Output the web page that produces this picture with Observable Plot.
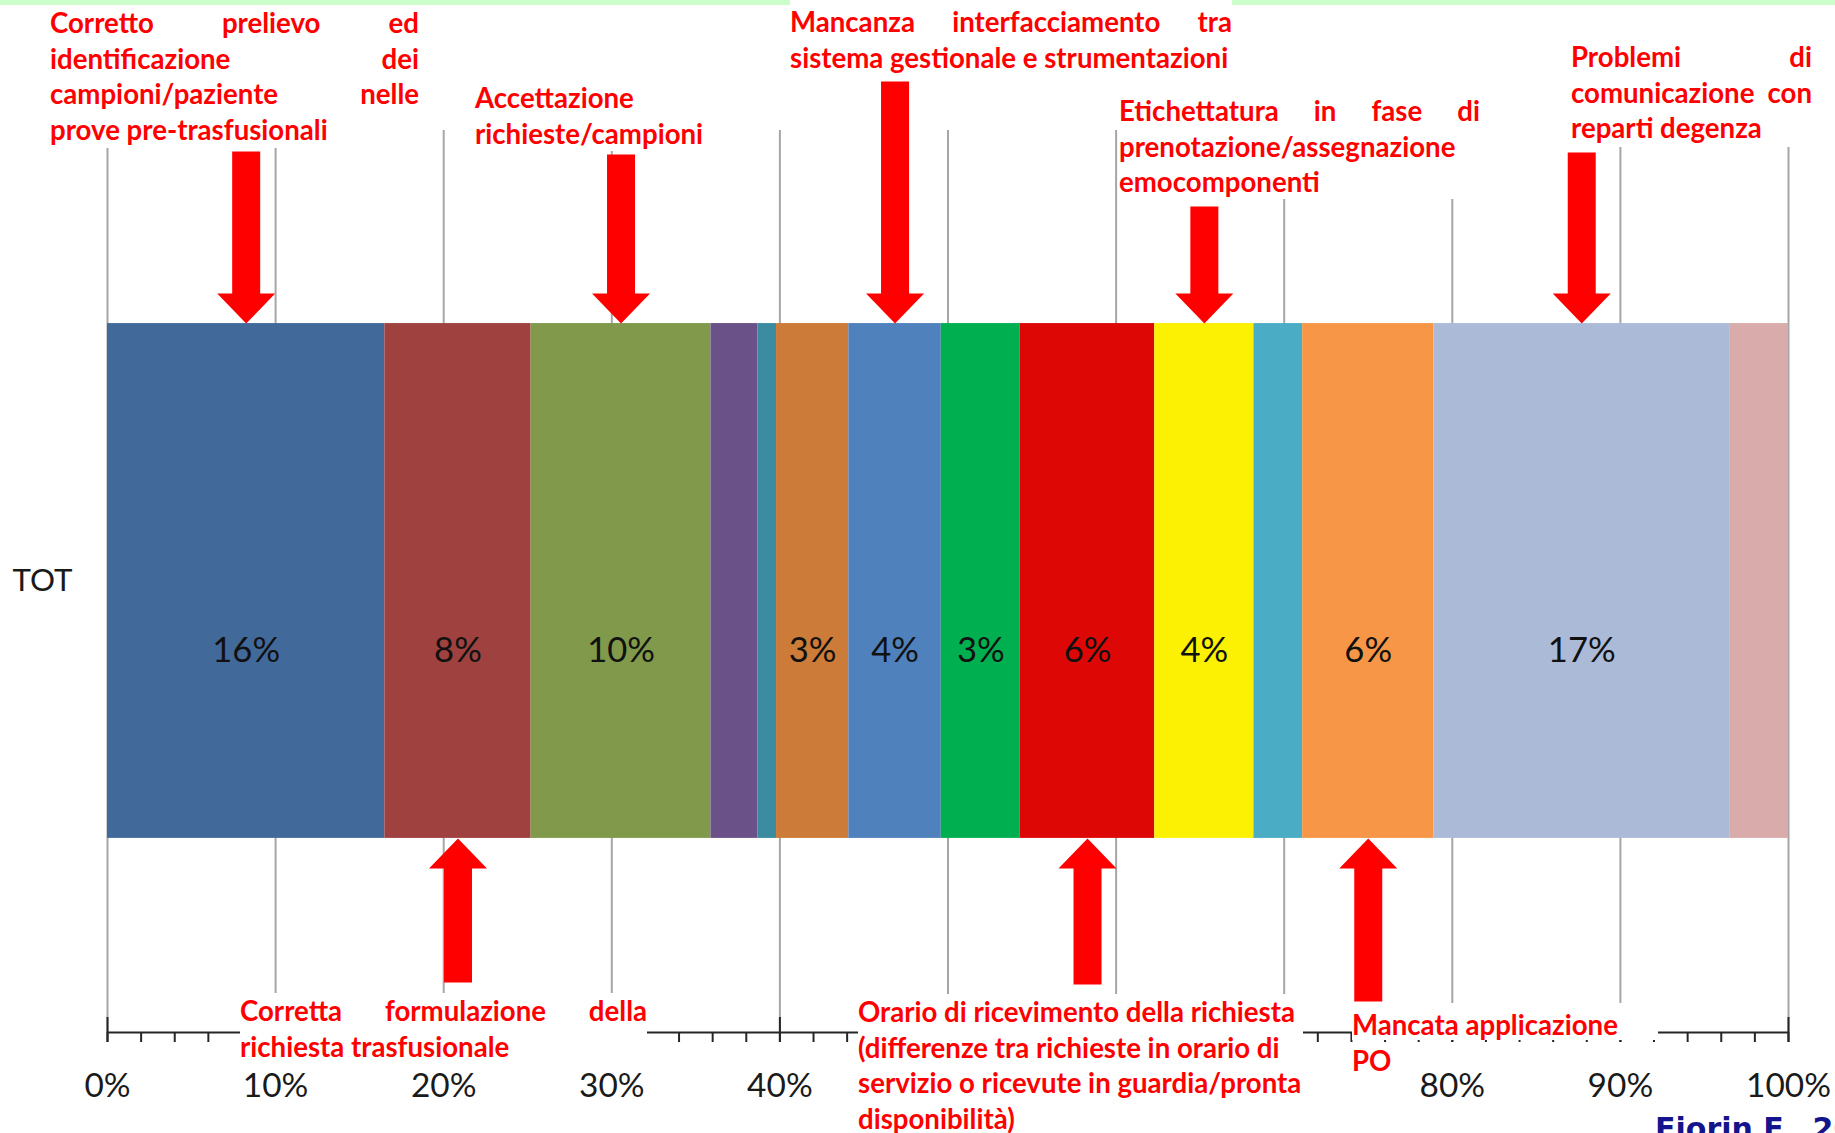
<!DOCTYPE html>
<html>
<head>
<meta charset="utf-8">
<script src="https://cdn.jsdelivr.net/npm/d3@7"></script>
<script src="https://cdn.jsdelivr.net/npm/@observablehq/plot@0.6"></script>
<style>
  html, body { margin: 0; padding: 0; background: #fff; overflow: hidden; }
  #wrap { position: relative; width: 1835px; height: 1133px; overflow: hidden; background: #fff; }
  #wrap svg { position: absolute; left: 0; top: 0; }
  #band { position: absolute; left: 0; top: 0; width: 1835px; height: 5px; background: #ccffcc; z-index: 1; }
  .note { position: absolute; background: #fff; z-index: 2; color: #ff0000; box-sizing: border-box;
          font-family: Lato, sans-serif; font-weight: bold; line-height: 35.5px; }
  .note .ln { white-space: nowrap; }
  #credit { position: absolute; left: 1655px; top: 1114px; z-index: 2; white-space: nowrap;
            font-family: "DejaVu Sans", sans-serif; font-weight: bold; font-size: 30px; line-height: 30px; color: #14148c; }
</style>
</head>
<body>
<div id="wrap"><div id="band"></div></div>
<script>
// ---------- data ----------
const groups = ["TOT"];
const causeIds = ["C01","C02","C03","C04","C05","C06","C07","C08","C09","C10","C11","C12","C13","C14"];
const shares = [16.5, 8.7, 10.7, 2.8, 1.1, 4.3, 5.5, 4.7, 8.0, 5.9, 2.9, 7.8, 17.6, 3.5];
const valueLabels = ["16%","8%","10%","","","3%","4%","3%","6%","4%","","6%","17%",""];
const xTicks = [0,10,20,30,40,50,60,70,80,90,100];
const xTickLabels = ["0%","10%","20%","30%","40%","50%","60%","70%","80%","90%","100%"];
const minorTicks = d3.range(0, 101, 2);

// annotations: text lines and the segment they point to
const notes = [
  {segment: 0, side: "top", lines: ["Corretto prelievo ed", "identificazione dei", "campioni/paziente nelle", "prove pre-trasfusionali"]},
  {segment: 2, side: "top", lines: ["Accettazione", "richieste/campioni"]},
  {segment: 6, side: "top", lines: ["Mancanza interfacciamento tra", "sistema gestionale e strumentazioni"]},
  {segment: 9, side: "top", lines: ["Etichettatura in fase di", "prenotazione/assegnazione", "emocomponenti"]},
  {segment: 12, side: "top", lines: ["Problemi di", "comunicazione con", "reparti degenza"]},
  {segment: 1, side: "bottom", lines: ["Corretta formulazione della", "richiesta trasfusionale"]},
  {segment: 8, side: "bottom", lines: ["Orario di ricevimento della richiesta", "(differenze tra richieste in orario di", "servizio o ricevute in guardia/pronta", "disponibilità)"]},
  {segment: 11, side: "bottom", lines: ["Mancata applicazione", "PO"]}
];
const creditText = "Fiorin F., 20";

// ---------- styles / layout ----------
const palette = ["#416a9b","#9e413f","#80994b","#6a5187","#3b8ba1","#cc7b38","#4f81bd",
                 "#00b050","#dd0806","#fcf103","#4bacc6","#f79646","#abbad7","#d9abaa"];
const FONT = "Lato, sans-serif";
// tick labels hidden behind the callout box in the original
const coveredTicks = [50, 60, 70];
const noteLayout = [
  {left: 50,   top: 5,    width: 369, height: 143, pad: 0, justify: 3, arrow: 172},
  {left: 475,  top: 80,   width: 235, height: 71,  pad: 0, justify: 0, arrow: 169},
  {left: 790,  top: 0,    width: 442, height: 75,  pad: 4, justify: 1, arrow: 242},
  {left: 1119, top: 93,   width: 361, height: 106, pad: 0, justify: 1, arrow: 117},
  {left: 1571, top: 39,   width: 241, height: 108, pad: 0, justify: 2, arrow: 171},
  {left: 240,  top: 993,  width: 407, height: 72,  pad: 0, justify: 1, arrow: 144},
  {left: 858,  top: 994,  width: 445, height: 139, pad: 0, justify: 0, arrow: 146},
  {left: 1352, top: 1003, width: 306, height: 37,  pad: 4, justify: 0, arrow: 163}
];

// font sizes fitted to the widths of the original's text
const ctx = document.createElement("canvas").getContext("2d");
function fitSize(text, target, weight, family) {
  ctx.font = `${weight} 100px ${family}`;
  return 100 * target / ctx.measureText(text).width;
}
const noteSize = d3.mean([
  ["sistema gestionale e strumentazioni", 439], ["prove pre-trasfusionali", 279],
  ["richiesta trasfusionale", 268], ["Mancata applicazione", 266], ["emocomponenti", 201]
], ([t, w]) => fitSize(t, w, "bold", FONT));
const tickFont = 1.06 * d3.mean([["100%", 80], ["80%", 62]], ([t, w]) => fitSize(t, w, "normal", FONT));
const valueSize = 1.06 * fitSize("16%", 64, "normal", FONT);
const catSize = fitSize("TOT", 60, "normal", FONT);

const W = 1835, H = 1133;
const M = {top: 130, bottom: 101, left: 107, right: 47};
const yMin = -0.377, yMax = 1.375;      // bar occupies [0, 1]
const pxPerY = (H - M.top - M.bottom) / (yMax - yMin);

const segments = causeIds.map((c, i) => ({group: groups[0], cause: c, share: shares[i], label: valueLabels[i]}));
const ends = d3.cumsum(shares);
const mids = shares.map((s, i) => ends[i] - s / 2);
const arrows = notes.map((n, i) => ({
  x: mids[n.segment],
  y: n.side === "top" ? 1 : 0,
  rotate: n.side === "top" ? 180 : 0,
  length: noteLayout[i].arrow
}));

const blockArrow = {
  draw(context, l) {
    const s = 14, h = 29, hh = 30;
    context.moveTo(-s, 0);
    context.lineTo(-s, -(l - hh));
    context.lineTo(-h, -(l - hh));
    context.lineTo(0, -l);
    context.lineTo(h, -(l - hh));
    context.lineTo(s, -(l - hh));
    context.lineTo(s, 0);
    context.closePath();
  }
};

const chart = Plot.plot({
  width: W, height: H,
  marginTop: M.top, marginBottom: M.bottom, marginLeft: M.left, marginRight: M.right,
  style: {fontFamily: FONT, background: "#fff", color: "#1a1a1a"},
  x: {domain: [0, 100]},
  y: {domain: [yMin, yMax]},
  color: {domain: causeIds, range: palette},
  length: {type: "identity"},
  marks: [
    Plot.ruleX(xTicks, {stroke: "#a6a6a6", strokeWidth: 2}),
    Plot.rectX(segments, Plot.stackX({x: "share", y1: 0, y2: 1, fill: "cause"})),
    Plot.text(segments, Plot.stackX({x: "share", y: 0.5, text: "label", dy: 70, fontSize: valueSize, fill: "#111"})),
    Plot.vector(arrows, {x: "x", y: "y", length: "length", rotate: "rotate", anchor: "end",
                         shape: blockArrow, fill: "#ff0000", stroke: "none"}),
    Plot.ruleY([yMin], {stroke: "#262626", strokeWidth: 2}),
    Plot.ruleX(xTicks, {y1: yMin, y2: yMin + 15 / pxPerY, stroke: "#262626", strokeWidth: 2}),
    Plot.axisX({ticks: minorTicks, tickSize: 10, tickFormat: () => "", stroke: "#262626", strokeWidth: 2, label: null}),
    Plot.axisX({ticks: xTicks, tickSize: 10, tickPadding: 31,
                tickFormat: d => coveredTicks.includes(d) ? "" : xTickLabels[xTicks.indexOf(d)],
                fontSize: tickFont, stroke: "#262626", strokeWidth: 2, label: null}),
    Plot.axisY({ticks: [0.5], tickSize: 0, tickPadding: 35, tickFormat: () => groups[0], fontSize: catSize, label: null})
  ]
});

const wrap = document.getElementById("wrap");
wrap.insertBefore(chart, wrap.firstChild);

// annotation boxes (white background covers grid, like the original callouts)
notes.forEach((n, i) => {
  const L = noteLayout[i];
  const div = document.createElement("div");
  div.className = "note";
  Object.assign(div.style, {left: L.left + "px", top: L.top + "px", width: L.width + "px",
                            height: L.height + "px", paddingTop: L.pad + "px", fontSize: noteSize + "px"});
  const spans = n.lines.map(t => {
    const ln = document.createElement("div");
    ln.className = "ln";
    const sp = document.createElement("span");
    sp.textContent = t;
    ln.appendChild(sp);
    div.appendChild(ln);
    return sp;
  });
  wrap.appendChild(div);
  spans.forEach((sp, k) => {
    if (k < L.justify) {
      const gaps = (n.lines[k].match(/ /g) || []).length;
      if (gaps > 0) {
        const w = sp.getBoundingClientRect().width;
        sp.style.wordSpacing = ((L.width - w) / gaps) + "px";
      }
    }
  });
});

const credit = document.createElement("div");
credit.id = "credit";
credit.textContent = creditText;
wrap.appendChild(credit);
</script>
</body>
</html>
